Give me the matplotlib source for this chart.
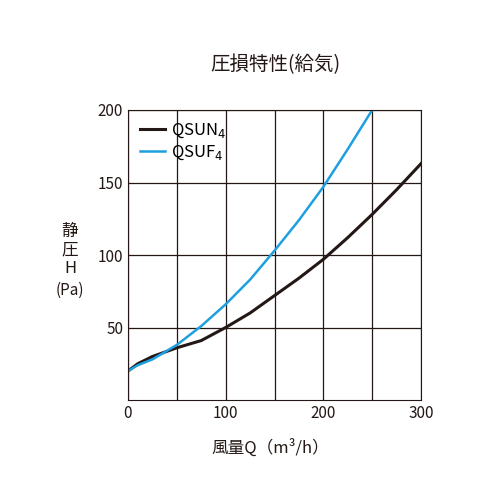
import matplotlib
matplotlib.use('Agg')
import matplotlib.pyplot as plt
plt.rcParams['font.family'] = ['Noto Sans CJK JP', 'DejaVu Sans']

qsun_x = [0, 10, 25, 50, 75, 100, 125, 150, 175, 200, 225, 250, 275, 300]
qsun_y = [20, 25, 30, 36, 41, 50, 60, 72, 84, 97, 112, 128, 145, 163]
qsuf_x = [0, 10, 25, 50, 75, 100, 125, 150, 175, 200, 225, 250]
qsuf_y = [20, 24, 28, 38, 51, 66, 83, 103, 124, 147, 173, 200]

fig = plt.figure(figsize=(5, 5), dpi=100)
ax = fig.add_axes([0.256, 0.2, 0.586, 0.58])
ax.plot(qsun_x, qsun_y, color='#231815', lw=2.2, label='QSUN$_4$')
ax.plot(qsuf_x, qsuf_y, color='#1ea0e0', lw=1.8, label='QSUF$_4$')
ax.set_xlim(0, 300); ax.set_ylim(0, 200)
ax.set_xticks([0, 100, 200, 300]); ax.set_xticks([50, 150, 250], minor=True)
ax.set_yticks([50, 100, 150, 200])
ax.grid(True, which='both', color='#231815', lw=0.9)
ax.tick_params(which='both', length=0, labelsize=11, colors='#231815')
for s in ax.spines.values():
    s.set_color('#231815')
ax.legend(loc='upper left', frameon=False, fontsize=12, handlelength=1.5,
          borderaxespad=0.3, labelspacing=0.2, handletextpad=0.4)
fig.text(0.55, 0.86, '圧損特性(給気)', ha='center', fontsize=14, color='#231815')
fig.text(0.14, 0.5, '静\n圧\nH', ha='center', va='center', fontsize=12, linespacing=1.1, color='#231815')
fig.text(0.14, 0.42, '(Pa)', ha='center', va='center', fontsize=11, color='#231815')
fig.text(0.54, 0.095, '風量Q（m³/h）', ha='center', fontsize=12, color='#231815')
fig.savefig('out.png')
